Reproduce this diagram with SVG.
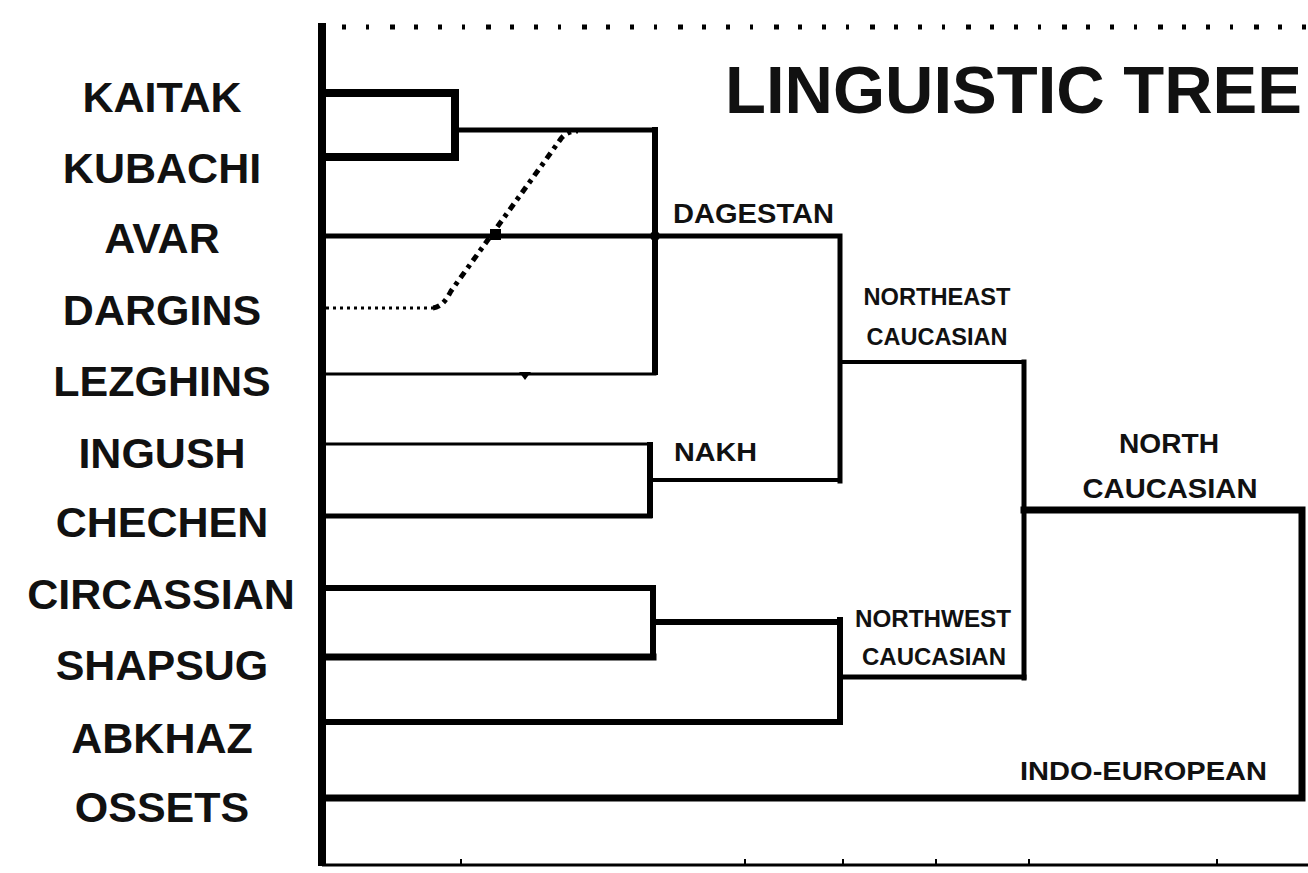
<svg xmlns="http://www.w3.org/2000/svg" width="1308" height="873" viewBox="0 0 1308 873">
  <style>
    text { font-family: "Liberation Sans", Arial, sans-serif; font-weight: bold; fill: #111; }
    .leaf { font-size: 43px; text-anchor: middle; }
    .clade { font-size: 24px; }
    .mid { text-anchor: middle; }
    .title { font-size: 67px; }
    .ln { stroke: #000; fill: none; stroke-linecap: square; }
    .butt { stroke-linecap: butt; }
    .w3 { stroke-width: 3; }
    .w4 { stroke-width: 4; }
    .w5 { stroke-width: 5; }
    .w6 { stroke-width: 6; }
    .w7 { stroke-width: 7; }
  </style>

  <rect width="1308" height="873" fill="#fff"/>

  <!-- frame: left axis, bottom scale with ticks, dotted top rule -->
  <g id="frame">
    <line class="ln butt" x1="322" y1="23" x2="322" y2="866" stroke-width="8"/>
    <line class="ln butt w3" x1="322" y1="865" x2="1308" y2="865"/>
    <path class="ln butt" stroke-width="2" d="M461 865V859M745 865V859M843 865V859M936 865V859M1029 865V859M1217 865V859"/>
    <line x1="342" y1="27" x2="1308" y2="27" stroke="#000" stroke-width="5" stroke-dasharray="4 20 3 21 5 19 4 20"/>
  </g>

  <text class="title" x="725" y="113">LINGUISTIC TREE</text>

  <!-- leaf languages -->
  <g id="kaitak"><text class="leaf" x="162" y="112">KAITAK</text></g>
  <g id="kubachi"><text class="leaf" x="162" y="183">KUBACHI</text></g>
  <g id="avar"><text class="leaf" x="162" y="253">AVAR</text></g>
  <g id="dargins"><text class="leaf" x="162" y="325">DARGINS</text></g>
  <g id="lezghins"><text class="leaf" x="162" y="396">LEZGHINS</text></g>
  <g id="ingush"><text class="leaf" x="162" y="468">INGUSH</text></g>
  <g id="chechen"><text class="leaf" x="162" y="537">CHECHEN</text></g>
  <g id="circassian"><text class="leaf" x="161" y="609">CIRCASSIAN</text></g>
  <g id="shapsug"><text class="leaf" x="162" y="680">SHAPSUG</text></g>
  <g id="abkhaz"><text class="leaf" x="162" y="753">ABKHAZ</text></g>
  <g id="ossets"><text class="leaf" x="162" y="822">OSSETS</text></g>

  <!-- clade labels -->
  <g id="dagestan"><text x="673" y="223" font-size="28" textLength="161" lengthAdjust="spacingAndGlyphs">DAGESTAN</text></g>
  <g id="northeast-caucasian">
    <text class="clade mid" x="937" y="305" textLength="147" lengthAdjust="spacingAndGlyphs">NORTHEAST</text>
    <text class="clade mid" x="937" y="345" textLength="141" lengthAdjust="spacingAndGlyphs">CAUCASIAN</text>
  </g>
  <g id="nakh"><text x="674" y="461" font-size="26" textLength="83" lengthAdjust="spacingAndGlyphs">NAKH</text></g>
  <g id="north-caucasian">
    <text class="mid" x="1169" y="453" font-size="27" textLength="100" lengthAdjust="spacingAndGlyphs">NORTH</text>
    <text class="mid" x="1170" y="498" font-size="27" textLength="175" lengthAdjust="spacingAndGlyphs">CAUCASIAN</text>
  </g>
  <g id="northwest-caucasian">
    <text class="clade mid" x="933" y="627" textLength="156" lengthAdjust="spacingAndGlyphs">NORTHWEST</text>
    <text class="clade mid" x="934" y="665" textLength="144" lengthAdjust="spacingAndGlyphs">CAUCASIAN</text>
  </g>
  <g id="indo-european"><text x="1020" y="780" font-size="25" textLength="247" lengthAdjust="spacingAndGlyphs">INDO-EUROPEAN</text></g>

  <!-- branches -->
  <g id="connectors">
    <!-- Kaitak + Kubachi -->
    <path class="ln" stroke-width="8" d="M322 93H455V157H322"/>
    <path class="ln w5" d="M455 130H655"/>
    <!-- Dagestan clade -->
    <path class="ln butt w6" d="M655 127V375"/>
    <path class="ln w5" d="M322 236H840V481"/>
    <path class="ln w3" d="M322 374H655"/>
    <polygon points="519,372 531,372 525,380" fill="#000"/>
    <circle cx="655" cy="236" r="5" fill="#000"/>
    <!-- Dargins, uncertain placement -->
    <path class="ln butt" stroke-width="3" stroke-dasharray="3 4" d="M326 308H433"/>
    <path class="ln butt" stroke-width="5" stroke-dasharray="7 5 4 5" d="M433 308Q443 307 451 291L560 140Q566 131 578 131"/>
    <rect x="490" y="229" width="11" height="11" fill="#000"/>
    <!-- Nakh -->
    <path class="ln w3" d="M322 444H650"/>
    <path class="ln w5" d="M322 516H650"/>
    <path class="ln butt w6" d="M650 442V518"/>
    <path class="ln w4" d="M650 480H840"/>
    <!-- Northeast Caucasian -->
    <path class="ln w4" d="M840 362H1024"/>
    <path class="ln w5" d="M1024 362V678"/>
    <!-- Northwest Caucasian -->
    <path class="ln w6" d="M322 588H653"/>
    <path class="ln w7" d="M322 657H653"/>
    <path class="ln butt w6" d="M653 585V660"/>
    <path class="ln w6" d="M653 622H840"/>
    <path class="ln w6" d="M322 722H840V620"/>
    <path class="ln w5" d="M840 677H1024"/>
    <!-- North Caucasian and Indo-European -->
    <path class="ln w7" d="M1024 510H1302V798H322"/>
  </g>
</svg>
